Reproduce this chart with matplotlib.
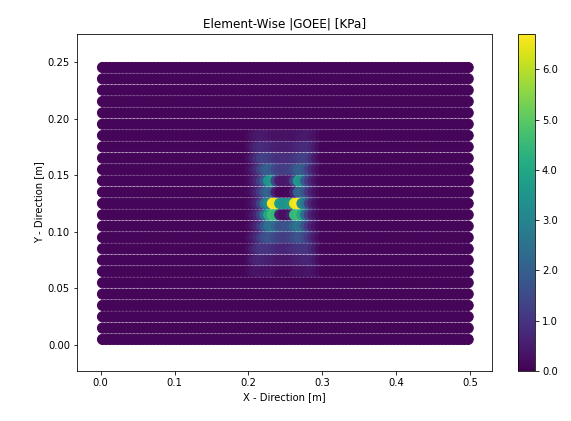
import numpy as np
import matplotlib
matplotlib.use("Agg")
import matplotlib.pyplot as plt

# element grid: 100 x 25 elements over a 0.5 m x 0.25 m plate
n_x, n_y = 100, 25
dx, dy = 0.005, 0.01
background = 0.08

# |GOEE| around the hot spot, rows 18 (top) .. 6 (bottom), columns 40..49
# (the field is mirror-symmetric about x = 0.25)
patch_rows = list(range(18, 5, -1))
patch_cols_left = list(range(40, 50))
patch_left = [
    [0.20, 0.30, 0.40, 0.45, 0.45, 0.40, 0.35, 0.30, 0.30, 0.30],
    [0.25, 0.45, 0.70, 0.80, 0.80, 0.75, 0.70, 0.60, 0.55, 0.55],
    [0.25, 0.50, 0.85, 1.20, 1.30, 1.25, 1.15, 1.00, 0.90, 0.90],
    [0.25, 0.45, 0.80, 1.30, 1.80, 2.00, 1.90, 1.50, 1.25, 1.20],
    [0.20, 0.40, 0.70, 1.20, 1.90, 3.40, 3.60, 1.40, 0.50, 0.40],
    [0.20, 0.35, 0.65, 1.10, 1.80, 2.20, 2.00, 0.60, 0.15, 0.10],
    [0.20, 0.35, 0.65, 1.30, 2.60, 3.20, 6.70, 6.50, 3.60, 3.40],
    [0.20, 0.35, 0.65, 1.30, 2.40, 4.00, 4.60, 4.40, 0.50, 0.25],
    [0.20, 0.35, 0.65, 1.10, 1.80, 2.40, 2.60, 2.20, 1.80, 1.70],
    [0.25, 0.45, 0.75, 1.10, 1.50, 1.70, 1.70, 1.50, 1.30, 1.20],
    [0.25, 0.50, 0.80, 1.00, 1.00, 1.00, 0.95, 0.85, 0.75, 0.70],
    [0.25, 0.45, 0.65, 0.70, 0.65, 0.60, 0.55, 0.45, 0.40, 0.40],
    [0.20, 0.30, 0.35, 0.35, 0.30, 0.30, 0.30, 0.25, 0.20, 0.20],
]

x_c = (np.arange(n_x) + 0.5) * dx
y_c = (np.arange(n_y) + 0.5) * dy
vals = np.full((n_y, n_x), background)
half = np.array(patch_left)
full = np.hstack([half, half[:, ::-1]])
cols = patch_cols_left + [n_x - 1 - c for c in patch_cols_left[::-1]]
for r, row in zip(patch_rows, full):
    vals[r, cols] = row

X, Y = np.meshgrid(x_c, y_c)

fig = plt.figure(figsize=(571 / 72, 421 / 72), dpi=72)
ax = fig.add_axes([77 / 571, 1 - 371 / 421, 415 / 571, 337 / 421])
sc = ax.scatter(X.ravel(), Y.ravel(), c=vals.ravel(), s=104, cmap="viridis",
                vmin=0.0, vmax=6.7)
ax.set_xlim(-0.0321, 0.5298)
ax.set_ylim(-0.0229, 0.2746)
ax.set_title("Element-Wise |GOEE| [KPa]")
ax.set_xlabel("X - Direction [m]")
ax.set_ylabel("Y - Direction [m]")

cax = fig.add_axes([518 / 571, 1 - 371 / 421, 17 / 571, 337 / 421])
cb = fig.colorbar(sc, cax=cax, format="%.1f")
cb.set_ticks([0, 1, 2, 3, 4, 5, 6])

fig.savefig("out.png", dpi=72)
